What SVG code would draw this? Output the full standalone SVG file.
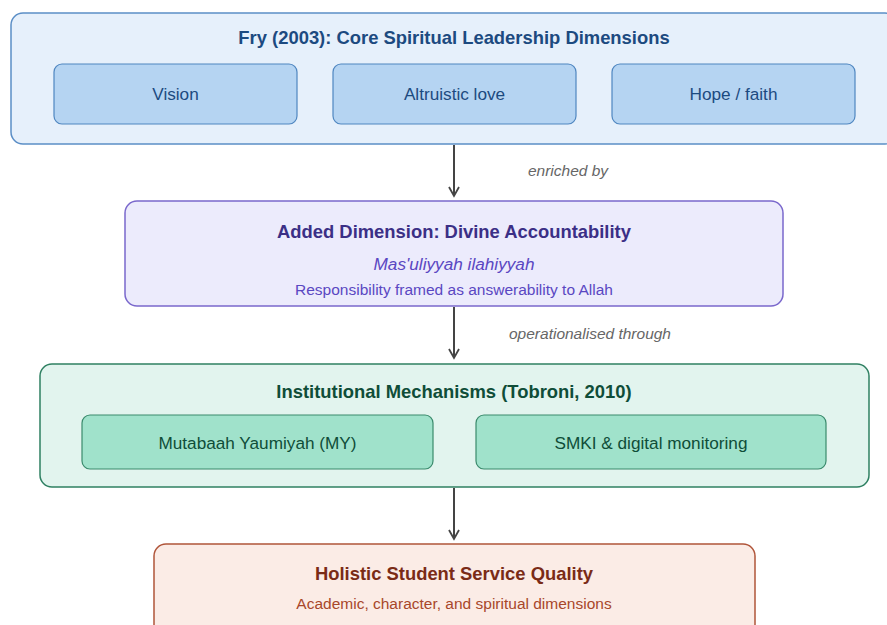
<svg xmlns="http://www.w3.org/2000/svg" width="887" height="625" viewBox="0 0 887 625">
  <style>
    text { font-family: "Liberation Sans", Arial, sans-serif; text-anchor: middle; }
    .title { font-size: 18.4px; font-weight: bold; }
    .item { font-size: 17.2px; }
    .sub { font-size: 15.5px; }
    .edge-label { font-size: 15.5px; font-style: italic; fill: #666666; }
    .edge { stroke: #444444; stroke-width: 2; fill: none; }
    .blue-outer { fill: #e6f0fb; stroke: #5b8ec6; stroke-width: 1.5; }
    .blue-inner { fill: #b5d4f2; stroke: #4f86c0; stroke-width: 1.2; }
    .blue-text { fill: #1c4a80; }
    .purple { fill: #ecebfc; stroke: #7a68cc; stroke-width: 1.5; }
    .green-outer { fill: #e2f4ee; stroke: #2f8062; stroke-width: 1.5; }
    .green-inner { fill: #a0e2cb; stroke: #3a8a6c; stroke-width: 1.2; }
    .green-text { fill: #0f4d38; }
    .red { fill: #fbece6; stroke: #b0553a; stroke-width: 1.5; }
  </style>
  <defs>
    <marker id="arrow" viewBox="0 0 12 12" refX="10" refY="6" markerWidth="12" markerHeight="12" markerUnits="userSpaceOnUse" orient="auto">
      <path d="M1,1 L10,6 L1,11" fill="none" stroke="#444444" stroke-width="1.8"/>
    </marker>
  </defs>

  <g id="fry-dimensions">
    <rect class="blue-outer" x="11" y="13" width="886" height="131" rx="12"/>
    <text class="title blue-text" x="454" y="44">Fry (2003): Core Spiritual Leadership Dimensions</text>
    <g id="vision">
      <rect class="blue-inner" x="54" y="64" width="243" height="60" rx="8"/>
      <text class="item blue-text" x="175.5" y="100">Vision</text>
    </g>
    <g id="altruistic-love">
      <rect class="blue-inner" x="333" y="64" width="243" height="60" rx="8"/>
      <text class="item blue-text" x="454.5" y="100">Altruistic love</text>
    </g>
    <g id="hope-faith">
      <rect class="blue-inner" x="612" y="64" width="243" height="60" rx="8"/>
      <text class="item blue-text" x="733.5" y="100">Hope / faith</text>
    </g>
  </g>

  <g id="divine-accountability">
    <rect class="purple" x="125" y="201" width="658" height="105" rx="12"/>
    <text class="title" x="454" y="238" fill="#3b2f86">Added Dimension: Divine Accountability</text>
    <text class="item" x="454" y="270" font-style="italic" fill="#5a47c2">Mas'uliyyah ilahiyyah</text>
    <text class="sub" x="454" y="294.5" fill="#5a47c2">Responsibility framed as answerability to Allah</text>
  </g>

  <g id="institutional-mechanisms">
    <rect class="green-outer" x="40" y="364" width="829" height="123" rx="12"/>
    <text class="title green-text" x="454" y="398">Institutional Mechanisms (Tobroni, 2010)</text>
    <g id="mutabaah-yaumiyah">
      <rect class="green-inner" x="82" y="415" width="351" height="54" rx="8"/>
      <text class="item green-text" x="257.5" y="449">Mutabaah Yaumiyah (MY)</text>
    </g>
    <g id="smki">
      <rect class="green-inner" x="476" y="415" width="350" height="54" rx="8"/>
      <text class="item green-text" x="651" y="449">SMKI &amp; digital monitoring</text>
    </g>
  </g>

  <g id="service-quality">
    <rect class="red" x="154" y="544" width="601" height="100" rx="12"/>
    <text class="title" x="454" y="580" fill="#7a2b16">Holistic Student Service Quality</text>
    <text class="sub" x="454" y="608.5" fill="#a8472a">Academic, character, and spiritual dimensions</text>
  </g>

  <g id="connectors">
    <line class="edge" x1="454" y1="145" x2="454" y2="196" marker-end="url(#arrow)"/>
    <text class="edge-label" x="568" y="175.5">enriched by</text>
    <line class="edge" x1="454" y1="307" x2="454" y2="358" marker-end="url(#arrow)"/>
    <text class="edge-label" x="590" y="338.5">operationalised through</text>
    <line class="edge" x1="454" y1="488" x2="454" y2="539" marker-end="url(#arrow)"/>
  </g>
</svg>
